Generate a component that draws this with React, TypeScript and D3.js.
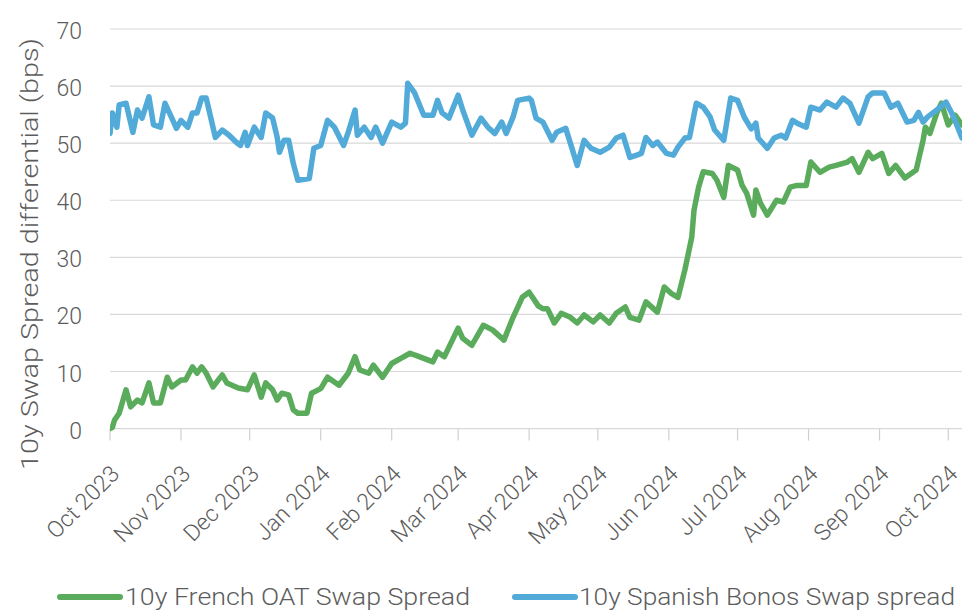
import React from "react";
import * as d3 from "d3";

const W = 962;
const H = 611;

const yTicks = [0, 10, 20, 30, 40, 50, 60, 70];
const yTitle = "10y Swap Spread differential (bps)";
const seriesNames = ["10y French OAT Swap Spread", "10y Spanish Bonos Swap spread"];
const seriesColors = ["#5aab5b", "#52aad8"];

const frenchDates = [
  "2023-10-01","2023-10-02","2023-10-03","2023-10-05","2023-10-08","2023-10-10","2023-10-13","2023-10-15","2023-10-18","2023-10-20",
  "2023-10-23","2023-10-26","2023-10-28","2023-11-01","2023-11-03","2023-11-06","2023-11-08","2023-11-10","2023-11-12","2023-11-15",
  "2023-11-19","2023-11-21","2023-11-26","2023-11-30","2023-12-03","2023-12-06","2023-12-08","2023-12-11","2023-12-13","2023-12-15",
  "2023-12-18","2023-12-20","2023-12-22","2023-12-26","2023-12-28","2024-01-01","2024-01-04","2024-01-09","2024-01-13","2024-01-16",
  "2024-01-18","2024-01-22","2024-01-24","2024-01-28","2024-02-01","2024-02-05","2024-02-09","2024-02-13","2024-02-19","2024-02-21",
  "2024-02-24","2024-03-01","2024-03-03","2024-03-07","2024-03-12","2024-03-16","2024-03-21","2024-03-25","2024-03-29","2024-04-01",
  "2024-04-05","2024-04-07","2024-04-09","2024-04-12","2024-04-15","2024-04-19","2024-04-22","2024-04-25","2024-04-29","2024-05-02",
  "2024-05-06","2024-05-09","2024-05-13","2024-05-15","2024-05-19","2024-05-22","2024-05-27","2024-05-30","2024-06-02","2024-06-05",
  "2024-06-08","2024-06-11","2024-06-12","2024-06-14","2024-06-16","2024-06-20","2024-06-22","2024-06-25","2024-06-27","2024-07-01",
  "2024-07-03","2024-07-05","2024-07-08","2024-07-09","2024-07-11","2024-07-14","2024-07-18","2024-07-21","2024-07-24","2024-07-27",
  "2024-07-31","2024-08-02","2024-08-06","2024-08-10","2024-08-13","2024-08-18","2024-08-20","2024-08-23","2024-08-27","2024-08-29",
  "2024-09-02","2024-09-05","2024-09-08","2024-09-12","2024-09-17","2024-09-20","2024-09-21","2024-09-23","2024-09-26","2024-09-28",
  "2024-10-01","2024-10-04","2024-10-07"
];
const frenchValues = [
  0, 0.2, 1.5, 2.7, 6.8, 3.8, 5, 4.5, 8, 4.5,
  4.5, 9, 7.3, 8.5, 8.5, 10.8, 9.7, 10.8, 9.7, 7.3,
  9.4, 8, 7.1, 6.8, 9.4, 5.5, 8, 6.8, 5, 6.2,
  5.9, 3.3, 2.7, 2.7, 6.2, 7, 9, 7.6, 9.7, 12.6,
  10.3, 9.7, 11.1, 9, 11.4, 12.3, 13.2, 12.6, 11.7, 13.4,
  12.6, 17.6, 15.8, 14.6, 18.1, 17.3, 15.5, 19.5, 23, 23.9,
  21.5, 21, 21, 18.5, 20.2, 19.5, 18.5, 19.9, 18.7, 19.9,
  18.5, 20.2, 21.3, 19.5, 19, 22.2, 20.4, 24.8, 23.7, 23,
  27.8, 33.5, 38.3, 42.3, 45, 44.7, 43.5, 40.5, 46.1, 45.3,
  42.6, 41.2, 37.4, 41.8, 39.5, 37.4, 40, 39.7, 42.3, 42.6,
  42.6, 46.7, 44.9, 45.8, 46.1, 46.7, 47.3, 44.9, 48.4, 47.3,
  48.2, 44.7, 46.1, 43.9, 45.3, 50.5, 52.8, 51.7, 55.3, 57,
  53.2, 54.9, 53.2
];

const spanishDates = [
  "2023-10-01","2023-10-02","2023-10-04","2023-10-05","2023-10-08","2023-10-11","2023-10-13","2023-10-15","2023-10-18","2023-10-20",
  "2023-10-23","2023-10-25","2023-10-28","2023-10-30","2023-11-01","2023-11-04","2023-11-06","2023-11-08","2023-11-10","2023-11-12",
  "2023-11-16","2023-11-19","2023-11-22","2023-11-25","2023-11-27","2023-11-29","2023-11-30","2023-12-03","2023-12-06","2023-12-08",
  "2023-12-11","2023-12-13","2023-12-14","2023-12-16","2023-12-18","2023-12-20","2023-12-22","2023-12-27","2023-12-29","2024-01-01",
  "2024-01-04","2024-01-07","2024-01-11","2024-01-13","2024-01-16","2024-01-17","2024-01-20","2024-01-23","2024-01-25","2024-01-28",
  "2024-02-01","2024-02-05","2024-02-07","2024-02-08","2024-02-11","2024-02-15","2024-02-19","2024-02-21","2024-02-23","2024-02-26",
  "2024-03-01","2024-03-03","2024-03-07","2024-03-11","2024-03-14","2024-03-17","2024-03-20","2024-03-22","2024-03-25","2024-03-27",
  "2024-04-01","2024-04-02","2024-04-04","2024-04-07","2024-04-11","2024-04-13","2024-04-17","2024-04-19","2024-04-22","2024-04-25",
  "2024-04-28","2024-05-02","2024-05-06","2024-05-09","2024-05-12","2024-05-15","2024-05-18","2024-05-20","2024-05-22","2024-05-25",
  "2024-05-27","2024-05-31","2024-06-03","2024-06-05","2024-06-08","2024-06-10","2024-06-13","2024-06-16","2024-06-19","2024-06-21",
  "2024-06-25","2024-06-28","2024-07-01","2024-07-04","2024-07-07","2024-07-09","2024-07-10","2024-07-14","2024-07-17","2024-07-20",
  "2024-07-22","2024-07-25","2024-07-27","2024-07-31","2024-08-02","2024-08-06","2024-08-09","2024-08-13","2024-08-16","2024-08-19",
  "2024-08-23","2024-08-27","2024-08-29","2024-09-03","2024-09-06","2024-09-09","2024-09-13","2024-09-16","2024-09-18","2024-09-20",
  "2024-09-22","2024-09-26","2024-09-30","2024-10-03","2024-10-07"
];
const spanishValues = [
  51.7, 55.3, 52.8, 56.7, 57, 51.9, 55.8, 54.4, 58.1, 53.2,
  52.8, 57, 54.4, 52.6, 54, 52.8, 55.3, 55.3, 57.9, 57.9,
  51, 52.3, 51.4, 50.2, 49.6, 51.9, 49.6, 52.8, 51, 55.3,
  54.4, 51, 48.4, 50.5, 50.5, 46.5, 43.5, 43.8, 49.1, 49.6,
  54, 52.8, 49.6, 51.9, 55.8, 51.4, 52.8, 51, 52.8, 50,
  53.7, 52.8, 53.5, 60.5, 58.8, 54.9, 54.9, 57.5, 55.3, 54.4,
  58.4, 55.8, 51.4, 54.4, 52.8, 51.7, 53.7, 51.7, 54.6, 57.5,
  57.9, 57.5, 54.4, 53.7, 50.5, 51.9, 52.6, 50, 46.1, 50.5,
  49.1, 48.4, 49.3, 50.9, 51.4, 47.5, 47.9, 48.2, 51, 49.6,
  50.2, 48.2, 47.9, 49.3, 50.9, 51, 57, 56.3, 54.6, 52.3,
  50.5, 57.9, 57.5, 54.5, 52.5, 53.5, 50.9, 49.1, 50.9, 51.4,
  50.9, 54, 53.5, 52.8, 56.3, 55.8, 57.2, 56.3, 57.9, 57,
  53.5, 58.1, 58.8, 58.8, 56.3, 57, 53.7, 54, 55.4, 53.7,
  54.6, 55.8, 57.2, 54.9, 50.9
];

const parse = d3.timeParse("%Y-%m-%d");
const xStart = "2023-10-01";
const xEnd = "2024-10-07";

const FONT = "Roboto, 'Open Sans', 'Liberation Sans', sans-serif";
const TEXT = "#5c5c5c";

export default function App() {
  const left = 110, right = 962, top = 29, bottom = 428.6;
  const x = d3.scaleTime().domain([parse(xStart)!, parse(xEnd)!]).range([left, right]);
  const y = d3.scaleLinear().domain([0, 70]).range([bottom, top]);
  const months = d3.timeMonth.range(parse(xStart)!, d3.timeDay.offset(parse(xEnd)!, -5));
  const fmt = d3.timeFormat("%b %Y");

  const line = d3
    .line<[Date, number]>()
    .x((d) => x(d[0]))
    .y((d) => y(d[1]));

  const series = [
    frenchDates.map((d, i) => [parse(d)!, frenchValues[i]] as [Date, number]),
    spanishDates.map((d, i) => [parse(d)!, spanishValues[i]] as [Date, number]),
  ];

  const legend = [
    { x1: 60, x2: 120, tx: 125, tl: 345 },
    { x1: 515, x2: 575, tx: 579, tl: 376 },
  ];

  return (
    <svg
      width={W}
      height={H}
      style={{ position: "absolute", left: 0, top: 0, background: "#fff" }}
      fontFamily={FONT}
    >
      <defs>
        <clipPath id="plot">
          <rect x={left} y={0} width={right - left} height={H} />
        </clipPath>
      </defs>
      {yTicks.map((t) => (
        <g key={t}>
          <line x1={left} x2={right} y1={y(t)} y2={y(t)} stroke="#d9d9d9" strokeWidth={1.2} />
          <text x={82} y={y(t) + 2} dy="0.35em" textAnchor="end" fontSize={23} fontWeight={300} fill={TEXT}>
            {t}
          </text>
        </g>
      ))}
      {months.map((m) => (
        <g key={m.toISOString()}>
          <line x1={x(m)} x2={x(m)} y1={bottom} y2={bottom + 12} stroke="#d0d0d0" strokeWidth={1.2} />
          <text
            transform={`translate(${x(m) + 5},${bottom + 41}) rotate(-45)`}
            dy="0.35em"
            textAnchor="end"
            fontSize={23}
            fontWeight={300}
            fill={TEXT}
          >
            {fmt(m)}
          </text>
        </g>
      ))}
      <text
        transform={`translate(38,254) rotate(-90)`}
        textAnchor="middle"
        fontSize={24}
        fontWeight={300}
        fill={TEXT}
        textLength={432}
        lengthAdjust="spacingAndGlyphs"
      >
        {yTitle}
      </text>
      <g clipPath="url(#plot)">
        {series.map((s, i) => (
          <path
            key={i}
            d={line(s) || ""}
            fill="none"
            stroke={seriesColors[i]}
            strokeWidth={5.5}
            strokeLinejoin="round"
            strokeLinecap="round"
          />
        ))}
      </g>
      {legend.map((l, i) => (
        <g key={i}>
          <line x1={l.x1} x2={l.x2} y1={597} y2={597} stroke={seriesColors[i]} strokeWidth={6} strokeLinecap="round" />
          <text
            x={l.tx}
            y={597}
            dy="0.35em"
            fontSize={24}
            fontWeight={300}
            fill={TEXT}
            textLength={l.tl}
            lengthAdjust="spacingAndGlyphs"
          >
            {seriesNames[i]}
          </text>
        </g>
      ))}
    </svg>
  );
}
